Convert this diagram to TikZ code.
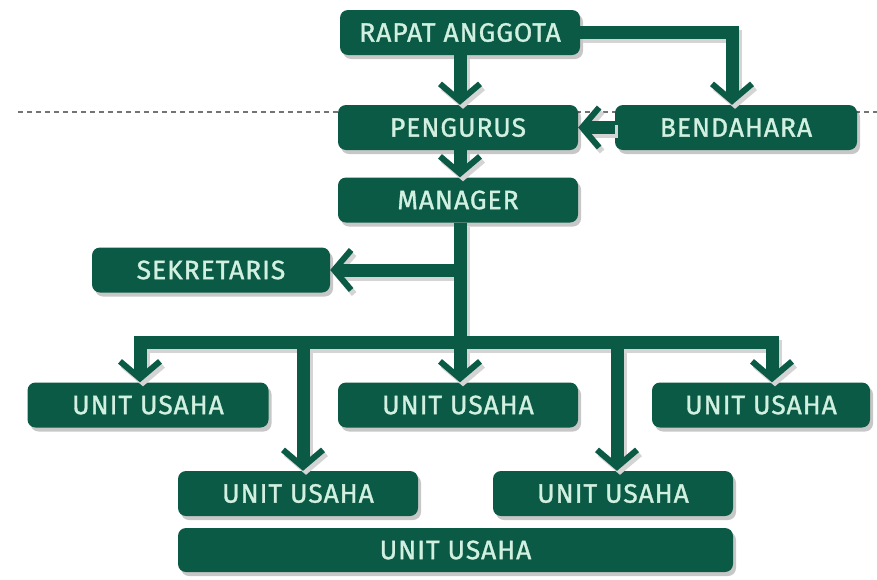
\documentclass[tikz,border=0pt]{standalone}
\usepackage{fontspec}
\setmainfont{Fira Sans}
\newfontfamily\boxfont{Fira Sans}[FakeBold=1.2, LetterSpace=3.5]
\usetikzlibrary{arrows.meta,shadows,calc}
\definecolor{boxgreen}{HTML}{0B5A46}
\definecolor{boxtext}{HTML}{D2F0E0}
\newcommand\orgconnectors[1]{%
  \draw[#1, -tipv] (ra.south -| tr) -- (pg.north -| tr);
  \draw[#1, -tipv] (ra.east) -| ([xshift=-4pt]bd.north);
  \draw[#1, -tipv] (bd.west) -- (pg.east);
  \draw[#1, -tipv] (pg.south -| tr) -- (mg.north -| tr);
  \draw[#1, -tipv] (sj) -- (sk.east);
  \draw[#1] (mg.south -| tr) -- (tr);
  \draw[#1, tipv-tipv] (bL |- u1.north) -- (bL) -- (bR) -- (bR |- u3.north);
  \draw[#1, -tipv] (tr) -- (tr |- u2.north);
  \draw[#1, -tipv] (b4) -- (b4 |- u4.north);
  \draw[#1, -tipv] (b5) -- (b5 |- u5.north);
}
\begin{document}
\begin{tikzpicture}[x=1pt,y=-1pt,
  orgbox/.style={draw=none, fill=boxgreen, rounded corners=8pt, text=boxtext,
    minimum height=45pt, inner sep=0pt,
    font=\boxfont\fontsize{26.5}{28}\selectfont,
    drop shadow={shadow xshift=3pt, shadow yshift=-4pt, opacity=0.22, fill=black}},
  conn/.style={draw=boxgreen, line width=13pt, line join=miter},
  connshadow/.style={draw=black!17, line width=13pt, line join=miter,
    transform canvas={shift={(3pt,-4pt)}}},
  tipv/.tip={Straight Barb[length=17pt, width=40pt, line width=6pt]},
]
\useasboundingbox (0,0) rectangle (877,579);
\fill[white] (0,0) rectangle (877,579);

% dashed level line
\coordinate (dl) at (18,112);
\coordinate (dr) at (877,112);
\draw[black!55, line width=1.2pt, dash pattern=on 5pt off 4pt] (dl) -- (dr);

% boxes
\node[orgbox, minimum width=240pt] (ra) at (460,32.5) {RAPAT ANGGOTA};
\node[orgbox, minimum width=240pt] (pg) at (458,127.5) {PENGURUS};
\node[orgbox, minimum width=242pt] (bd) at (736,127.5) {BENDAHARA};
\node[orgbox, minimum width=240pt] (mg) at (458,200) {MANAGER};
\node[orgbox, minimum width=238pt] (sk) at (211,270) {SEKRETARIS};
\node[orgbox, minimum width=241pt] (u1) at (148,405) {UNIT USAHA};
\node[orgbox, minimum width=240pt] (u2) at (458,405) {UNIT USAHA};
\node[orgbox, minimum width=218pt] (u3) at (761,405) {UNIT USAHA};
\node[orgbox, minimum width=240pt] (u4) at (298,493.5) {UNIT USAHA};
\node[orgbox, minimum width=240pt] (u5) at (613,493.5) {UNIT USAHA};
\node[orgbox, minimum width=555pt, minimum height=44pt] (u6) at (455.5,550) {UNIT USAHA};

% branching points
\coordinate (tr) at (460,342);
\coordinate (sj) at (460,270);
\coordinate (bL) at (140,342);
\coordinate (bR) at (772,342);
\coordinate (b4) at (303,342);
\coordinate (b5) at (617,342);

% connectors: shadows first, then the green lines
\orgconnectors{connshadow}
\orgconnectors{conn}
\end{tikzpicture}
\end{document}
